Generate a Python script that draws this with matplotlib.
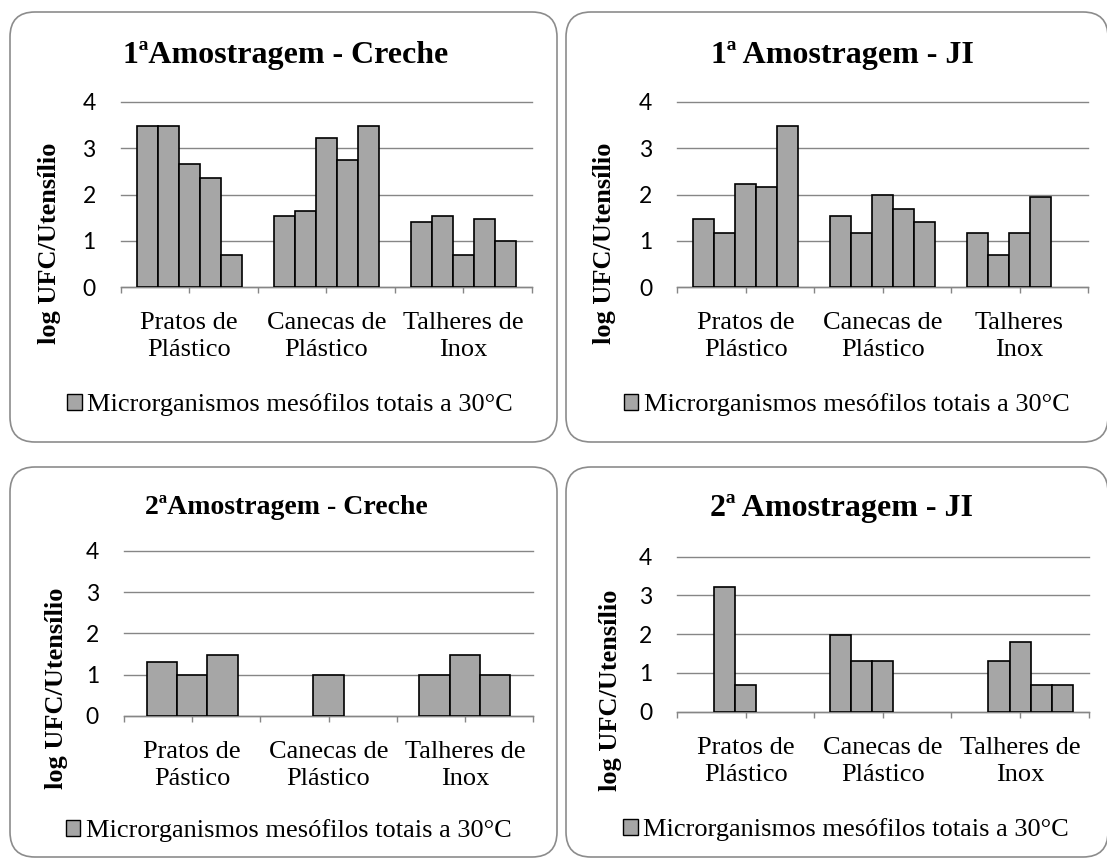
import numpy as np
import matplotlib
matplotlib.use('Agg')
import matplotlib.pyplot as plt
from matplotlib.patches import FancyBboxPatch, Patch

W, H = 1107, 861
nan = np.nan

legend_label = 'Microrganismos mesófilos totais a 30°C'
y_label = 'log UFC/Utensílio'

# 1ª amostragem - creche
creche1_title = '1ªAmostragem - Creche'
creche1_cats = ['Pratos de\nPlástico', 'Canecas de\nPlástico', 'Talheres de\nInox']
creche1_pratos = [3.48, 3.48, 2.66, 2.35, 0.70]
creche1_canecas = [1.54, 1.65, 3.22, 2.75, 3.48]
creche1_talheres = [1.40, 1.54, 0.70, 1.48, 1.00]

# 1ª amostragem - JI
ji1_title = '1ª Amostragem - JI'
ji1_cats = ['Pratos de\nPlástico', 'Canecas de\nPlástico', 'Talheres\nInox']
ji1_pratos = [1.48, 1.18, 2.24, 2.17, 3.48]
ji1_canecas = [1.54, 1.18, 2.00, 1.70, 1.40]
ji1_talheres = [1.18, 0.70, 1.18, 1.96, nan]

# 2ª amostragem - creche
creche2_title = '2ªAmostragem - Creche'
creche2_cats = ['Pratos de\nPástico', 'Canecas de\nPlástico', 'Talheres de\nInox']
creche2_pratos = [1.30, 1.00, 1.48]
creche2_canecas = [nan, 1.00, nan]
creche2_talheres = [1.00, 1.48, 1.00]

# 2ª amostragem - JI
ji2_title = '2ª Amostragem - JI'
ji2_cats = ['Pratos de\nPlástico', 'Canecas de\nPlástico', 'Talheres de\nInox']
ji2_pratos = [nan, 3.23, 0.70, nan, nan]
ji2_canecas = [1.98, 1.30, 1.30, nan, nan]
ji2_talheres = [nan, 1.30, 1.81, 0.70, 0.70]

BAR = '#a6a6a6'
LINE = '#868686'
SERIF = 'Liberation Serif'

fig = plt.figure(figsize=(W / 100, H / 100), dpi=100)
bg = fig.add_axes([0, 0, 1, 1])
bg.set_xlim(0, W)
bg.set_ylim(H, 0)
bg.axis('off')


def draw_panel(box, axes_px, title, title_xy, title_size, cats, groups,
               ylabel_xy, legend_xy):
    x0, y0, x1, y1 = box
    bg.add_patch(FancyBboxPatch((x0, y0), x1 - x0, y1 - y0,
                                boxstyle='round,pad=0,rounding_size=25',
                                fc='white', ec='#8c8c8c', lw=1.2))
    bg.text(title_xy[0], title_xy[1], title, ha='center', va='center',
            fontsize=title_size, fontweight='bold', family=SERIF)

    left, top, right, bottom = axes_px
    ax = fig.add_axes([left / W, 1 - bottom / H, (right - left) / W, (bottom - top) / H])
    ax.set_facecolor('none')

    n = len(groups[0])
    w = 1.0 / (n + 1.5)
    for ci, vals in enumerate(groups):
        for si, v in enumerate(vals):
            if np.isnan(v):
                continue
            ax.bar(ci + (si - (n - 1) / 2) * w, v, width=w, color=BAR,
                   edgecolor='black', linewidth=1.2, zorder=3)

    ax.set_xlim(-0.5, 2.5)
    ax.set_ylim(0, 4)
    ax.set_yticks([0, 1, 2, 3, 4])
    ax.yaxis.grid(True, color=LINE, lw=1.0)
    for gl in ax.get_ygridlines():
        gl.set_clip_on(False)
    ax.set_axisbelow(True)
    for s in ['left', 'right', 'top']:
        ax.spines[s].set_visible(False)
    ax.spines['bottom'].set_color(LINE)
    ax.spines['bottom'].set_linewidth(1.0)
    ax.tick_params(axis='y', length=0, pad=18, labelsize=16.5)
    for t in ax.get_yticklabels():
        t.set_family('Lato')

    ax.set_xticks([-0.5, 0.5, 1.5, 2.5])
    ax.set_xticklabels([])
    ax.set_xticks([0, 1, 2], minor=True)
    ax.set_xticklabels(cats, minor=True, family=SERIF, fontsize=19, linespacing=1.3)
    ax.tick_params(axis='x', which='major', direction='out', length=4, color=LINE, width=1)
    ax.tick_params(axis='x', which='minor', direction='inout', length=8, color=LINE, width=1, pad=14)

    ax.set_ylabel(y_label, family=SERIF, fontsize=19, fontweight='bold')
    ax.yaxis.label.set_va('center')
    ax.yaxis.set_label_coords(ylabel_xy[0], ylabel_xy[1], transform=bg.transData)

    ax.legend(handles=[Patch(fc=BAR, ec='black', lw=1.0)], labels=[legend_label],
              loc='center', bbox_to_anchor=legend_xy, bbox_transform=bg.transData,
              frameon=False, prop={'family': SERIF, 'size': 19},
              handlelength=0.55, handleheight=0.55, handletextpad=0.2, borderpad=0)
    return ax


draw_panel((10, 12, 557, 442), (120.7, 102, 532, 287.3), creche1_title, (286, 55), 23,
           creche1_cats, [creche1_pratos, creche1_canecas, creche1_talheres],
           (50, 243), (290, 405))
draw_panel((566, 12, 1108, 442), (677.3, 102, 1088, 287.3), ji1_title, (842.5, 55), 23,
           ji1_cats, [ji1_pratos, ji1_canecas, ji1_talheres],
           (605, 243), (846.5, 405))
draw_panel((10, 467, 557, 857), (124, 550.7, 533, 716), creche2_title, (286, 507), 20,
           creche2_cats, [creche2_pratos, creche2_canecas, creche2_talheres],
           (56, 688), (288.5, 831))
draw_panel((566, 467, 1108, 857), (677, 556.7, 1088.7, 711.7), ji2_title, (842, 508.5), 23,
           ji2_cats, [ji2_pratos, ji2_canecas, ji2_talheres],
           (610, 690), (846, 830))

fig.savefig('out.png', dpi=100)
